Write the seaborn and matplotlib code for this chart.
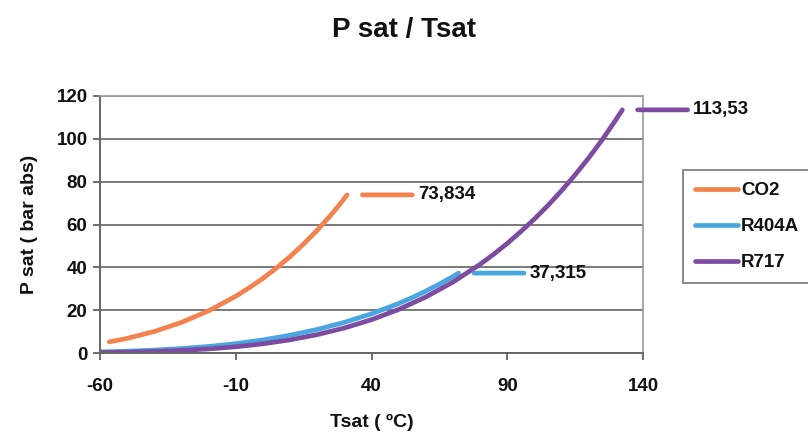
import matplotlib
matplotlib.use('Agg')
from matplotlib import pyplot as plt
import seaborn as sns
import pandas as pd

# saturation curves
co2_t = [-56.6, -50, -40, -30, -20, -10, -5, 0, 5, 10, 15, 20, 25, 28, 31.0]
co2_p = [5.18, 6.82, 10.05, 14.28, 19.70, 26.49, 30.5, 34.85, 39.7, 45.02, 50.9, 57.29, 64.34, 68.9, 73.834]

r404a_t = [-60, -50, -40, -30, -20, -10, 0, 10, 20, 30, 40, 50, 55, 60, 65, 70, 72.1]
r404a_p = [0.5, 0.83, 1.35, 2.07, 3.06, 4.35, 6.1, 8.3, 11.0, 14.3, 18.3, 23.1, 25.9, 28.9, 32.2, 35.7, 37.315]

r717_t = [-60, -50, -40, -30, -20, -10, 0, 10, 20, 30, 40, 50, 60, 70, 80, 85, 90, 95, 100, 105,
          110, 115, 120, 125, 130, 132.4]
r717_p = [0.22, 0.41, 0.72, 1.2, 1.9, 2.91, 4.29, 6.15, 8.57, 11.67, 15.55, 20.33, 26.15, 33.12,
          41.41, 46.1, 51.15, 56.7, 62.55, 68.9, 75.8, 83.2, 91.1, 99.6, 108.9, 113.53]

series_names = ["CO2", "R404A", "R717"]
series_colors = ["#F3824E", "#4AA6E0", "#7D4CA0"]
end_labels = ["73,834", "37,315", "113,53"]

x_ticks = [-60, -10, 40, 90, 140]
y_ticks = [0, 20, 40, 60, 80, 100, 120]

frames = []
for name, t, p in zip(series_names, [co2_t, r404a_t, r717_t], [co2_p, r404a_p, r717_p]):
    frames.append(pd.DataFrame({"Tsat": t, "Psat": p, "fluid": name}))
df = pd.concat(frames, ignore_index=True)

sns.set_style("white")
plt.rcParams['font.family'] = ['Liberation Sans', 'DejaVu Sans']
plt.rcParams['font.weight'] = 'bold'
plt.rcParams['axes.unicode_minus'] = False
plt.rcParams['text.color'] = '#111111'
plt.rcParams['xtick.color'] = '#111111'
plt.rcParams['ytick.color'] = '#111111'
plt.rcParams['axes.labelcolor'] = '#111111'

fig = plt.figure(figsize=(8.08, 4.37), dpi=100)
ax = fig.add_axes([100 / 808, 1 - 353 / 437, 543 / 808, 257 / 437])

sns.lineplot(data=df, x="Tsat", y="Psat", hue="fluid", hue_order=series_names,
             palette=series_colors, linewidth=3.4, ax=ax, sort=False)

ax.set_xlim(x_ticks[0], x_ticks[-1])
ax.set_ylim(y_ticks[0], y_ticks[-1])
ax.set_xticks(x_ticks)
ax.set_yticks(y_ticks)
ax.tick_params(axis='both', labelsize=13.5, length=5, width=1.2, color='#555555', direction='out',
               bottom=True, left=True, pad=4)
ax.tick_params(axis='x', pad=13)
ax.yaxis.grid(True, color='#7a7a7a', linewidth=1.4)
ax.xaxis.grid(False)
for side in ['top', 'right']:
    ax.spines[side].set_color('#9a9a9a')
    ax.spines[side].set_linewidth(1.2)
for side in ['left', 'bottom']:
    ax.spines[side].set_color('#666666')
    ax.spines[side].set_linewidth(1.4)

ax.set_xlabel("Tsat ( ºC)", fontsize=14, fontweight='bold', labelpad=14)
ax.set_ylabel("P sat ( bar abs)", fontsize=14, fontweight='bold', labelpad=13)
fig.text(0.5, 1 - 30 / 437, "P sat / Tsat", ha='center', va='center', fontsize=20, fontweight='bold')

# end value labels with leader lines
for t, p, c, lab in zip([co2_t, r404a_t, r717_t], [co2_p, r404a_p, r717_p], series_colors, end_labels):
    ax.annotate('', xy=(t[-1], p[-1]), xytext=(47, 0), textcoords='offset points',
                annotation_clip=False,
                arrowprops=dict(arrowstyle='-', color=c, lw=3.4, shrinkA=0, shrinkB=11))
    ax.annotate(lab, xy=(t[-1], p[-1]), xytext=(51, 0), textcoords='offset points',
                ha='left', va='center', fontsize=13.5, annotation_clip=False)

leg = ax.legend(title=None, loc='upper left', bbox_to_anchor=(683 / 808, 1 - 170 / 437),
                bbox_transform=fig.transFigure, frameon=True, fancybox=False,
                fontsize=13.5, handlelength=2.3, handletextpad=0.15, borderpad=0.65,
                labelspacing=1.0, borderaxespad=0)
leg.get_frame().set_edgecolor('#555555')
leg.get_frame().set_linewidth(1.2)
for line in leg.get_lines():
    line.set_linewidth(3.4)

fig.savefig("out.png", dpi=100)
